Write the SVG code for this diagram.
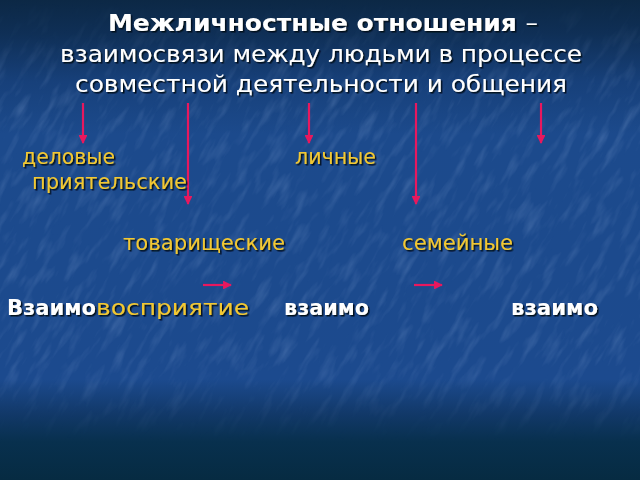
<svg xmlns="http://www.w3.org/2000/svg" width="640" height="480" viewBox="0 0 640 480">
<defs>
  <linearGradient id="bg" x1="0" y1="0" x2="0" y2="1">
    <stop offset="0" stop-color="#0c2845"/>
    <stop offset="0.07" stop-color="#0f2f56"/>
    <stop offset="0.17" stop-color="#17407a"/>
    <stop offset="0.28" stop-color="#1c4a8c"/>
    <stop offset="0.79" stop-color="#1c4a8e"/>
    <stop offset="0.86" stop-color="#12396a"/>
    <stop offset="0.92" stop-color="#08304e"/>
    <stop offset="1" stop-color="#062b42"/>
  </linearGradient>
  <linearGradient id="fade" x1="0" y1="0" x2="0" y2="1">
    <stop offset="0" stop-color="#fff" stop-opacity="0"/>
    <stop offset="0.2" stop-color="#fff" stop-opacity="1"/>
    <stop offset="0.75" stop-color="#fff" stop-opacity="1"/>
    <stop offset="0.92" stop-color="#fff" stop-opacity="0"/>
  </linearGradient>
  <mask id="m" maskUnits="userSpaceOnUse" x="0" y="0" width="640" height="480">
    <rect width="640" height="480" fill="url(#fade)"/>
  </mask>
  <filter id="tex" x="0" y="0" width="1" height="1">
    <feTurbulence type="fractalNoise" baseFrequency="0.12 0.03" numOctaves="3" seed="7" result="n"/>
    <feColorMatrix in="n" type="matrix" values="0 0 0 0 0.55  0 0 0 0 0.7  0 0 0 0 1  0 0 0 -2.2 1.15" result="c"/>
    <feComposite in="c" in2="SourceGraphic" operator="in"/>
  </filter>
  <filter id="sh" x="-10%" y="-30%" width="120%" height="160%">
    <feDropShadow dx="1.5" dy="1.5" stdDeviation="0.6" flood-color="#000814" flood-opacity="0.95"/>
  </filter>
  <marker id="ah" viewBox="0 0 10 10" refX="9" refY="5" markerWidth="4" markerHeight="4" orient="auto" markerUnits="strokeWidth">
    <path d="M0,0 L10,5 L0,10 z" fill="#e8185e"/>
  </marker>
  <style>
    .t { font-family: "DejaVu Sans", "Noto Sans", sans-serif; fill: #ffffff; filter: url(#sh); }
    .tb { font-weight: bold; }
    .y { font-family: "DejaVu Sans", "Noto Sans", sans-serif; fill: #f2c832; font-size: 21px; filter: url(#sh); }
    .w { font-family: "DejaVu Sans", "Noto Sans", sans-serif; fill: #ffffff; font-weight: bold; font-size: 21px; filter: url(#sh); }
    .ar { stroke: #e8185e; stroke-width: 2.2; fill: none; marker-end: url(#ah); }
  </style>
</defs>

<rect width="640" height="480" fill="url(#bg)"/>
<g mask="url(#m)">
  <g transform="rotate(30 320 240)" opacity="0.16">
    <rect x="-200" y="-200" width="1040" height="880" fill="#ffffff" filter="url(#tex)"/>
  </g>
</g>

<g id="title">
  <text class="t tb" x="323" y="31" font-size="23" text-anchor="middle" textLength="430" lengthAdjust="spacingAndGlyphs">Межличностные отношения <tspan font-weight="normal">–</tspan></text>
  <text class="t" x="321" y="62" font-size="23" text-anchor="middle" textLength="522" lengthAdjust="spacingAndGlyphs">взаимосвязи между людьми в процессе</text>
  <text class="t" x="321" y="92" font-size="23" text-anchor="middle" textLength="492" lengthAdjust="spacingAndGlyphs">совместной деятельности и общения</text>
</g>

<g id="connectors">
  <line class="ar" x1="83" y1="103" x2="83" y2="143"/>
  <line class="ar" x1="188" y1="103" x2="188" y2="204"/>
  <line class="ar" x1="309" y1="103" x2="309" y2="143"/>
  <line class="ar" x1="416" y1="103" x2="416" y2="204"/>
  <line class="ar" x1="541" y1="103" x2="541" y2="143"/>
  <line class="ar" x1="203" y1="285" x2="231" y2="285"/>
  <line class="ar" x1="414" y1="285" x2="442" y2="285"/>
</g>

<g id="node-delovye"><text class="y" x="22" y="164" textLength="93" lengthAdjust="spacingAndGlyphs">деловые</text></g>
<g id="node-priyatelskie"><text class="y" x="32" y="189" textLength="155" lengthAdjust="spacingAndGlyphs">приятельские</text></g>
<g id="node-lichnye"><text class="y" x="295" y="164" textLength="81" lengthAdjust="spacingAndGlyphs">личные</text></g>
<g id="node-tovarishcheskie"><text class="y" x="123" y="250" textLength="162" lengthAdjust="spacingAndGlyphs">товарищеские</text></g>
<g id="node-semeinye"><text class="y" x="402" y="250" textLength="111" lengthAdjust="spacingAndGlyphs">семейные</text></g>

<g id="node-vzaimovospriyatie">
  <text x="7" y="315"><tspan class="w" textLength="89" lengthAdjust="spacingAndGlyphs">Взаимо</tspan><tspan class="y" font-size="25" textLength="153" lengthAdjust="spacingAndGlyphs">восприятие</tspan></text>
</g>
<g id="node-vzaimo1"><text class="w" x="284" y="315" textLength="85" lengthAdjust="spacingAndGlyphs">взаимо</text></g>
<g id="node-vzaimo2"><text class="w" x="511" y="315" textLength="87" lengthAdjust="spacingAndGlyphs">взаимо</text></g>
</svg>
